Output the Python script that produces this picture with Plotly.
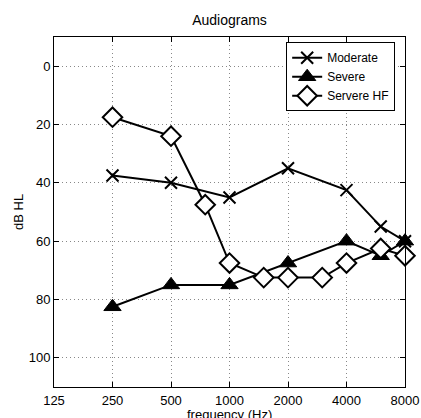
import plotly.graph_objects as go

freq_tick_labels = [125, 250, 500, 1000, 2000, 4000, 8000]
db_ticks = [0, 20, 40, 60, 80, 100]

moderate_freq = [250, 500, 1000, 2000, 4000, 6000, 8000]
moderate_db = [37.5, 40, 45, 35, 42.5, 55, 60]

severe_freq = [250, 500, 1000, 2000, 4000, 6000, 8000]
severe_db = [82.5, 75, 75, 67.5, 60, 65, 60]

hf_freq = [250, 500, 750, 1000, 1500, 2000, 3000, 4000, 6000, 8000]
hf_db = [17.5, 24, 47.5, 67.5, 72.5, 72.5, 72.5, 67.5, 62.5, 65]

fnt = "Liberation Sans, Arial, sans-serif"

fig = go.Figure()
fig.add_trace(go.Scatter(x=moderate_freq, y=moderate_db, name="Moderate", mode="lines+markers",
                         cliponaxis=False,
                         line=dict(color="black", width=2),
                         marker=dict(symbol="x-thin-open", size=12, color="black",
                                     line=dict(color="black", width=2))))
fig.add_trace(go.Scatter(x=severe_freq, y=severe_db, name="Severe", mode="lines+markers",
                         cliponaxis=False,
                         line=dict(color="black", width=2),
                         marker=dict(symbol="triangle-up", size=15, color="black",
                                     line=dict(color="black", width=1))))
fig.add_trace(go.Scatter(x=hf_freq, y=hf_db, name="Servere HF", mode="lines+markers",
                         cliponaxis=False,
                         line=dict(color="black", width=2),
                         marker=dict(symbol="diamond", size=15, color="white",
                                     line=dict(color="black", width=2))))

fig.update_layout(
    width=421, height=418,
    margin=dict(l=54, r=16, t=37, b=31, autoexpand=False),
    paper_bgcolor="white", plot_bgcolor="white",
    font=dict(family=fnt, size=13, color="black"),
    title=dict(text="Audiograms", x=0.5, xanchor="center", xref="paper",
               y=1 - 20/418, yanchor="middle", yref="container",
               font=dict(size=14, family=fnt), automargin=False),
    showlegend=True,
    legend=dict(x=0.972, xanchor="right", y=0.985, yanchor="top",
                bgcolor="white", bordercolor="black", borderwidth=1,
                font=dict(size=12, family=fnt), tracegroupgap=0,
                itemwidth=30, itemsizing="trace"),
    annotations=[
        dict(text="frequency (Hz)", xref="paper", yref="paper", x=0.5, y=-27/350,
             xanchor="center", yanchor="middle", showarrow=False, font=dict(size=13)),
        dict(text="dB HL", xref="paper", yref="paper", x=-36/351, y=0.5, textangle=-90,
             xanchor="center", yanchor="middle", showarrow=False, font=dict(size=13)),
    ],
)
fig.update_xaxes(type="log", range=[2.09691, 3.90309], automargin=False,
                 tickvals=freq_tick_labels, ticktext=[str(v) for v in freq_tick_labels],
                 showgrid=True, gridcolor="#888", griddash="1px,3px", gridwidth=1,
                 showline=True, linecolor="black", linewidth=1, mirror="ticks",
                 ticks="inside", ticklen=5, tickcolor="black", ticklabelstandoff=1,
                 tickfont=dict(size=13), zeroline=False)
fig.update_yaxes(range=[110, -10], tickvals=db_ticks, automargin=False,
                 showgrid=True, gridcolor="#888", griddash="1px,3px", gridwidth=1,
                 showline=True, linecolor="black", linewidth=1, mirror="ticks",
                 ticks="inside", ticklen=5, tickcolor="black",
                 tickfont=dict(size=13), zeroline=False)

fig.write_html("out.html", config={"displayModeBar": False},
               post_script="document.body.style.margin='0px';document.body.style.overflow='hidden';")
